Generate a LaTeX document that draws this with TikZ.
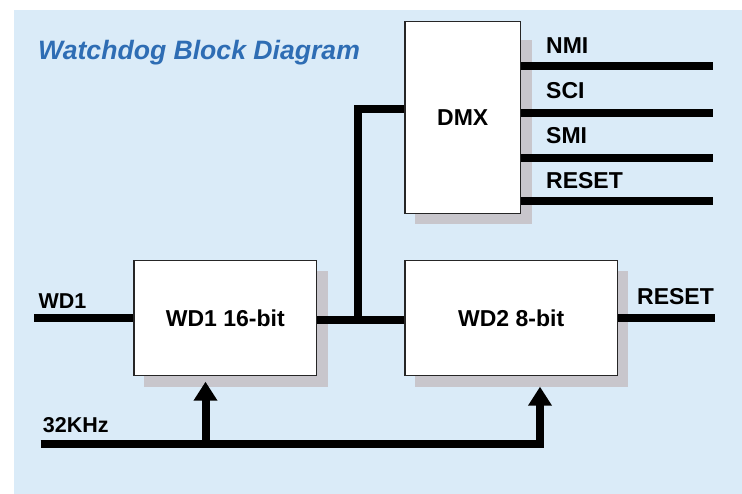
\documentclass[tikz,border=0pt]{standalone}
\usepackage{fontspec}
\setmainfont{Liberation Sans}
\usetikzlibrary{arrows.meta,calc}
\definecolor{panel}{HTML}{DAEBF8}
\definecolor{dropgray}{HTML}{C8C6CC}
\definecolor{titleblue}{HTML}{2E6DB4}
\tikzset{
  block/.style={draw=black!85, line width=1.4pt, fill=white, inner sep=0pt,
    font=\fontsize{23}{27}\selectfont\bfseries},
  wire/.style={line width=8pt, line cap=butt, line join=miter},
  clk/.style={wire, -{Triangle[length=19pt,width=22.7pt]}},
  sig/.style={anchor=base west, inner sep=0pt, font=\fontsize{23}{27}\selectfont\bfseries},
  small sig/.style={sig, font=\fontsize{21.5}{25}\selectfont\bfseries},
}
\begin{document}
\begin{tikzpicture}[x=1pt,y=-1pt]
\useasboundingbox (0,0) rectangle (742,494);
\fill[white] (0,0) rectangle (742,494);
\fill[panel] (14,10) rectangle (742,494);

% title
\node[anchor=base west, inner sep=0pt, text=titleblue,
  font=\fontsize{26.6}{30}\selectfont\bfseries\itshape] (title) at (38,59.3) {Watchdog Block Diagram};

% drop shadows of the blocks
\fill[dropgray] (144,270.7) rectangle (327.7,386.7);
\fill[dropgray] (415,270.7) rectangle (628.3,386.7);
\fill[dropgray] (415,40) rectangle (531.7,224.3);

% blocks
\node[block, minimum width=115.5pt, minimum height=191.6pt] (dmx) at (462.75,117.5) {DMX};
\node[block, minimum width=182.7pt, minimum height=115pt] (wd1) at (225.3,318.2) {WD1 16-bit};
\node[block, minimum width=212.3pt, minimum height=115pt] (wd2) at (511.2,318.2) {WD2 8-bit};

% WD1 input
\coordinate (wi) at (34,318.3);
\draw[wire] (wi) -- (wd1.west |- wi);
\node[small sig] (wdl) at (38.3,308.3) {WD1};

% WD1 -> WD2 and branch to DMX
\coordinate (jn) at (357.5,320);
\draw[wire] (wd1.east |- jn) -- (wd2.west |- jn);
\draw[wire] (jn) |- ($(dmx.west)+(0,-8.5)$);

% DMX outputs
\foreach \y/\t/\ly in {66.3/NMI/54, 113.3/SCI/99, 158/SMI/143.3, 200.7/RESET/188.3} {
  \coordinate (o\t) at (713,\y);
  \draw[wire] (dmx.east |- o\t) -- (o\t);
  \node[sig] (l\t) at (546,\ly) {\t};
}

% WD2 output
\coordinate (ro) at (714.5,318.3);
\draw[wire] (wd2.east |- ro) -- (ro);
\node[sig] (rstl) at (637,305) {RESET};

% clock
\coordinate (ck) at (40.7,444);
\coordinate (t1) at (205.5,381.7);
\coordinate (t2) at (540,386.7);
\draw[clk] (ck) -| (t2);
\draw[clk] (t1 |- ck) -- (t1);
\node[small sig] (ckl) at (42.7,432.3) {32KHz};
\end{tikzpicture}
\end{document}
